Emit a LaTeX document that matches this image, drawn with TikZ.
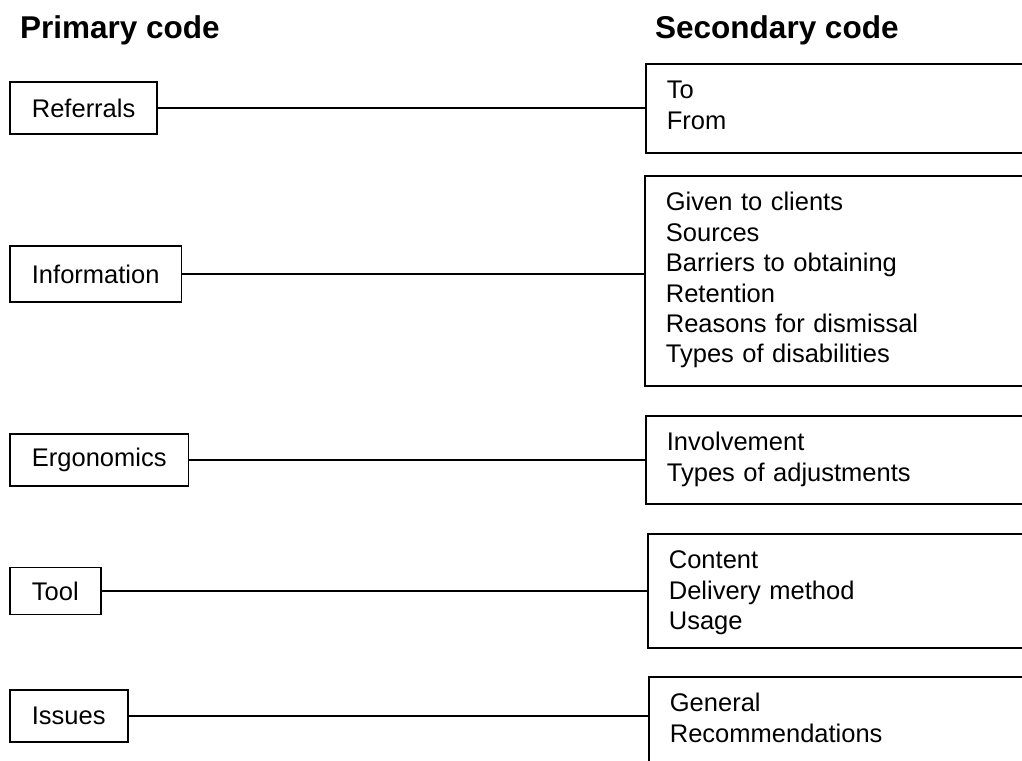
\documentclass[tikz,border=0pt]{standalone}
\usepackage{fontspec}
\setmainfont{Liberation Sans}
\usetikzlibrary{positioning}

\begin{document}
\begin{tikzpicture}[
  x=1pt, y=-1pt,
  pcode/.style={draw, line width=1.8pt, anchor=west, inner xsep=22pt, inner ysep=0pt, minimum height=#1, font=\fontsize{25.5}{30.4}\selectfont},
  pcode/.default=52pt,
  scode/.style={draw, line width=1.8pt, anchor=north west, align=left, text width=360pt, inner xsep=21pt, inner ysep=0pt, text height=35pt, text depth=#1, font=\fontsize{25.5}{30.4}\selectfont},
  link/.style={line width=1.8pt},
  heading/.style={anchor=base west, inner sep=0pt, font=\fontsize{31.5}{36}\selectfont\bfseries}
]
  \clip (0,0) rectangle (1022,760);

  \node[heading] (ptitle) at (20,38) {Primary code};
  \node[heading] (stitle) at (655,38) {Secondary code};

  % Primary codes
  \node[pcode] (ref) at (9,108) {Referrals};
  \node[pcode=56pt] (info) at (9,274) {Information};
  \node[pcode] (ergo) at (9,460) {Ergonomics};
  \node[pcode=47pt] (tool) at (9,591) {Tool};
  \node[pcode] (iss) at (9,716) {Issues};

  % Secondary codes
  \node[scode=54pt] (refsec) at (645,63) {To\\From};
  \node[scode=175pt] (infosec) at (644,175) {Given to clients\\Sources\\Barriers to obtaining\\Retention\\Reasons for dismissal\\Types of disabilities};
  \node[scode=53pt] (ergosec) at (645,415) {Involvement\\Types of adjustments};
  \node[scode=79pt] (toolsec) at (647,533) {Content\\Delivery method\\Usage};
  \node[scode=79pt] (isssec) at (648,676) {General\\Recommendations};

  % Links
  \draw[link] (ref.east) -- (ref.east -| refsec.west);
  \draw[link] (info.east) -- (info.east -| infosec.west);
  \draw[link] (ergo.east) -- (ergo.east -| ergosec.west);
  \draw[link] (tool.east) -- (tool.east -| toolsec.west);
  \draw[link] (iss.east) -- (iss.east -| isssec.west);
\end{tikzpicture}
\end{document}
